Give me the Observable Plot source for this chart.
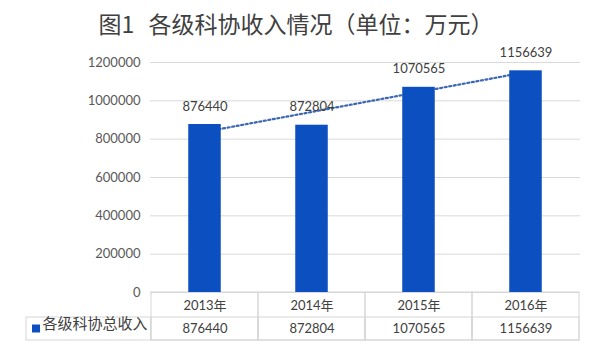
<!DOCTYPE html>
<html>
<head>
<meta charset="utf-8">
<script src="https://cdn.jsdelivr.net/npm/d3@7"></script>
<script src="https://cdn.jsdelivr.net/npm/@observablehq/plot@0.6"></script>
<style>
  html, body { margin: 0; padding: 0; background: #ffffff; }
  #wrap { width: 600px; }
  #title {
    height: 40px; line-height: 46px; overflow: visible;
    text-align: center; padding-right: 8px; box-sizing: border-box;
    font-family: "Noto Sans CJK SC", sans-serif; font-size: 23px; color: #404040;
    white-space: pre; word-spacing: 2px;
  }
</style>
</head>
<body>
<div id="wrap">
  <div id="title"></div>
  <div id="chart"></div>
</div>
<script>
const titleText = "图1  各级科协收入情况（单位：万元）";
const categories = ["2013年", "2014年", "2015年", "2016年"];
const values = [876440, 872804, 1070565, 1156639];
const yTicks = [0, 200000, 400000, 600000, 800000, 1000000, 1200000];
const seriesName = "各级科协总收入";

document.getElementById("title").textContent = titleText;

const data = categories.map((c, i) => ({year: c, value: values[i]}));

// linear trendline (least squares over category index)
const xs = d3.range(values.length);
const mx = d3.mean(xs), my = d3.mean(values);
const slope = d3.sum(xs, (x, i) => (x - mx) * (values[i] - my)) / d3.sum(xs, x => (x - mx) ** 2);
const intercept = my - slope * mx;
const trend = categories.map((c, i) => ({year: c, value: intercept + slope * i}));

const barColor = "#0b4fc0";
const lineColor = "#d6d6d6";
const textColor = "#404040";

const chart = Plot.plot({
  width: 600,
  height: 312,
  marginTop: 22,
  marginBottom: 60,
  marginLeft: 150,
  marginRight: 20,
  style: {
    fontFamily: 'Lato, "Noto Sans CJK SC", sans-serif',
    fontSize: "13px",
    color: "#595959",
    background: "#ffffff"
  },
  x: {domain: categories, padding: 0, axis: null},
  y: {
    domain: [0, 1200000],
    ticks: yTicks,
    tickFormat: d => String(d),
    tickSize: 0,
    tickPadding: 10,
    label: null
  },
  marks: [
    Plot.ruleY(yTicks, {stroke: "#d9d9d9"}),
    Plot.barY(categories, {x: d => d, y1: 0, y2: 0, insetBottom: -48, fill: "none", stroke: lineColor}),
    Plot.barY(categories, {x: d => d, y1: 0, y2: 0, insetTop: 25, insetBottom: -48, fill: "none", stroke: lineColor}),
    Plot.barY([categories[0]], {x: d => d, y1: 0, y2: 0, insetTop: 25, insetBottom: -48, insetLeft: -125, insetRight: 107.5, fill: "none", stroke: lineColor}),
    Plot.line(trend, {x: "year", y: "value", stroke: "#3b67b5", strokeWidth: 2.2, strokeDasharray: "2 2.6"}),
    Plot.barY(data, {x: "year", y: "value", fill: barColor, insetLeft: 37.25, insetRight: 37.25}),
    Plot.text(data, {x: "year", y: "value", text: d => String(d.value), dy: -18, fill: textColor, fontSize: 13}),
    Plot.text(categories, {x: d => d, y: () => 0, text: d => d, dy: 13, fill: textColor, fontSize: 13}),
    Plot.text(data, {x: "year", y: () => 0, text: d => String(d.value), dy: 36, fill: textColor, fontSize: 13}),
    Plot.text([seriesName], {frameAnchor: "bottom-left", text: d => d, textAnchor: "end", dx: -3, dy: 36, fill: textColor, fontSize: 15}),
    Plot.dot([seriesName], {frameAnchor: "bottom-left", symbol: "square", r: 4.5, fill: barColor, stroke: "none", dx: -114.5, dy: 36})
  ]
});
document.getElementById("chart").appendChild(chart);
</script>
</body>
</html>
